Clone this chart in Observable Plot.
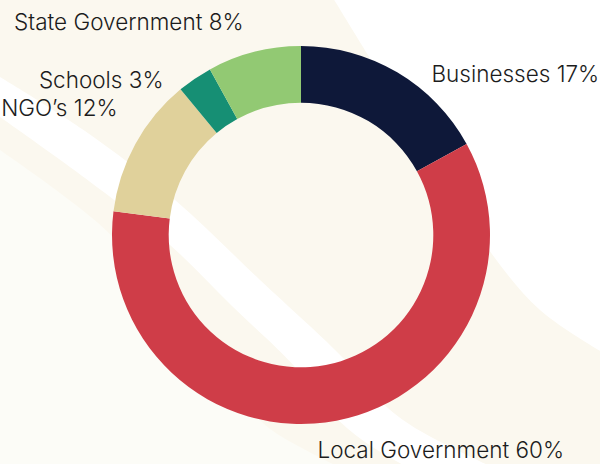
<!DOCTYPE html>
<html>
<head>
<meta charset="utf-8">
<script src="https://cdn.jsdelivr.net/npm/d3@7"></script>
<script src="https://cdn.jsdelivr.net/npm/@observablehq/plot@0.6"></script>
<style>
  body { margin: 0; background: #ffffff; }
  #wrap { position: relative; width: 600px; height: 464px; overflow: hidden; }
  #bg, #chart { position: absolute; left: 0; top: 0; }
</style>
</head>
<body>
<div id="wrap">
  <svg id="bg" width="600" height="464"></svg>
  <div id="chart"></div>
</div>
<script>
// ---- data ----
const categories = ["Businesses", "Local Government", "NGO’s", "Schools", "State Government"];
const shares = [17, 60, 12, 3, 8];
const sliceColors = ["#0e1839", "#cf3d48", "#e0d19b", "#168f74", "#92c973"];

// ---- layout / style ----
const W = 600, H = 464;
const CX = 301, CY = 235, R = 189;     // pixel centre & outer radius
const INNER = 0.70;                      // inner radius fraction
const LABEL_R = 217 / R;                 // label anchor radius (data units)
const labelNudge = {                     // pixel nudges from anchor
  "Businesses": [19.5, 25.8],
  "Local Government": [-24.7, 2.6],
  "NGO’s": [6.2, -22.4],
  "Schools": [-16, 24.5],
  "State Government": [-4, -2.8]
};
const rightSide = new Set(["Businesses", "Local Government"]);

// ---- decorative background ----
(function drawBackground() {
  const svg = d3.select("#bg");
  const line = d3.line().curve(d3.curveCatmullRom);
  const cream = "#fbf8ef", light = "#fcfcf7", white = "#ffffff";
  const W1 = [[333,-2],[368,55],[430,155],[489,250],[540,310],[602,352]];
  const W2 = [[0,77],[85,131],[175,200],[260,280],[345,360],[377,398],[412,426],[490,466]];
  const W3 = [[0,117],[85,178],[170,245],[232,306],[295,367],[330,412],[365,442],[405,466]];
  const W4 = [[0,150],[60,193],[113,237],[190,330],[263,423],[300,447],[337,466]];
  svg.append("rect").attr("width", W).attr("height", H).attr("fill", cream);
  svg.append("path").attr("d", line(W4) + "L0,466Z").attr("fill", light);
  svg.append("path").attr("d", line(W2) + "L" + line(W3.slice().reverse()).slice(1) + "Z").attr("fill", white);
  svg.append("path").attr("d", line(W1) + "L602,-2Z").attr("fill", white);
})();

// ---- table ----
const table = categories.map((c, i) => ({category: c, share: shares[i], color: sliceColors[i]}));
const pieArcs = d3.pie().sort(null).value(d => d.share)(table);
const labelRows = pieArcs.map(a => {
  const mid = (a.startAngle + a.endAngle) / 2;
  const [nx, ny] = labelNudge[a.data.category];
  return {
    category: a.data.category,
    text: `${a.data.category} ${a.data.share}%`,
    x: LABEL_R * Math.sin(mid) + nx / R,
    y: LABEL_R * Math.cos(mid) - ny / R
  };
});

const colorOf = d3.scaleOrdinal(categories, sliceColors);

function donutMark(index, scales) {
  const cx = scales.x(0), cy = scales.y(0);
  const r = scales.x(1) - scales.x(0);
  const arc = d3.arc().innerRadius(r * INNER).outerRadius(r);
  const g = d3.create("svg:g").attr("transform", `translate(${cx},${cy})`);
  g.selectAll("path")
    .data(pieArcs)
    .join("path")
    .attr("d", arc)
    .attr("fill", d => colorOf(d.data.category));
  return g.node();
}

const textStyle = {
  text: "text",
  x: "x",
  y: "y",
  fontSize: 22.5,
  fontWeight: 300,
  fontFamily: "Inter, 'Open Sans', sans-serif",
  fill: "#1c1c1c"
};

const chart = Plot.plot({
  width: W,
  height: H,
  margin: 0,
  style: {background: "transparent", overflow: "visible"},
  x: {domain: [-CX / R, (W - CX) / R], axis: null},
  y: {domain: [-(H - CY) / R, CY / R], axis: null},
  marks: [
    donutMark,
    Plot.text(labelRows.filter(d => rightSide.has(d.category)), {...textStyle, textAnchor: "start"}),
    Plot.text(labelRows.filter(d => !rightSide.has(d.category)), {...textStyle, textAnchor: "end"})
  ]
});
document.getElementById("chart").appendChild(chart);
</script>
</body>
</html>
